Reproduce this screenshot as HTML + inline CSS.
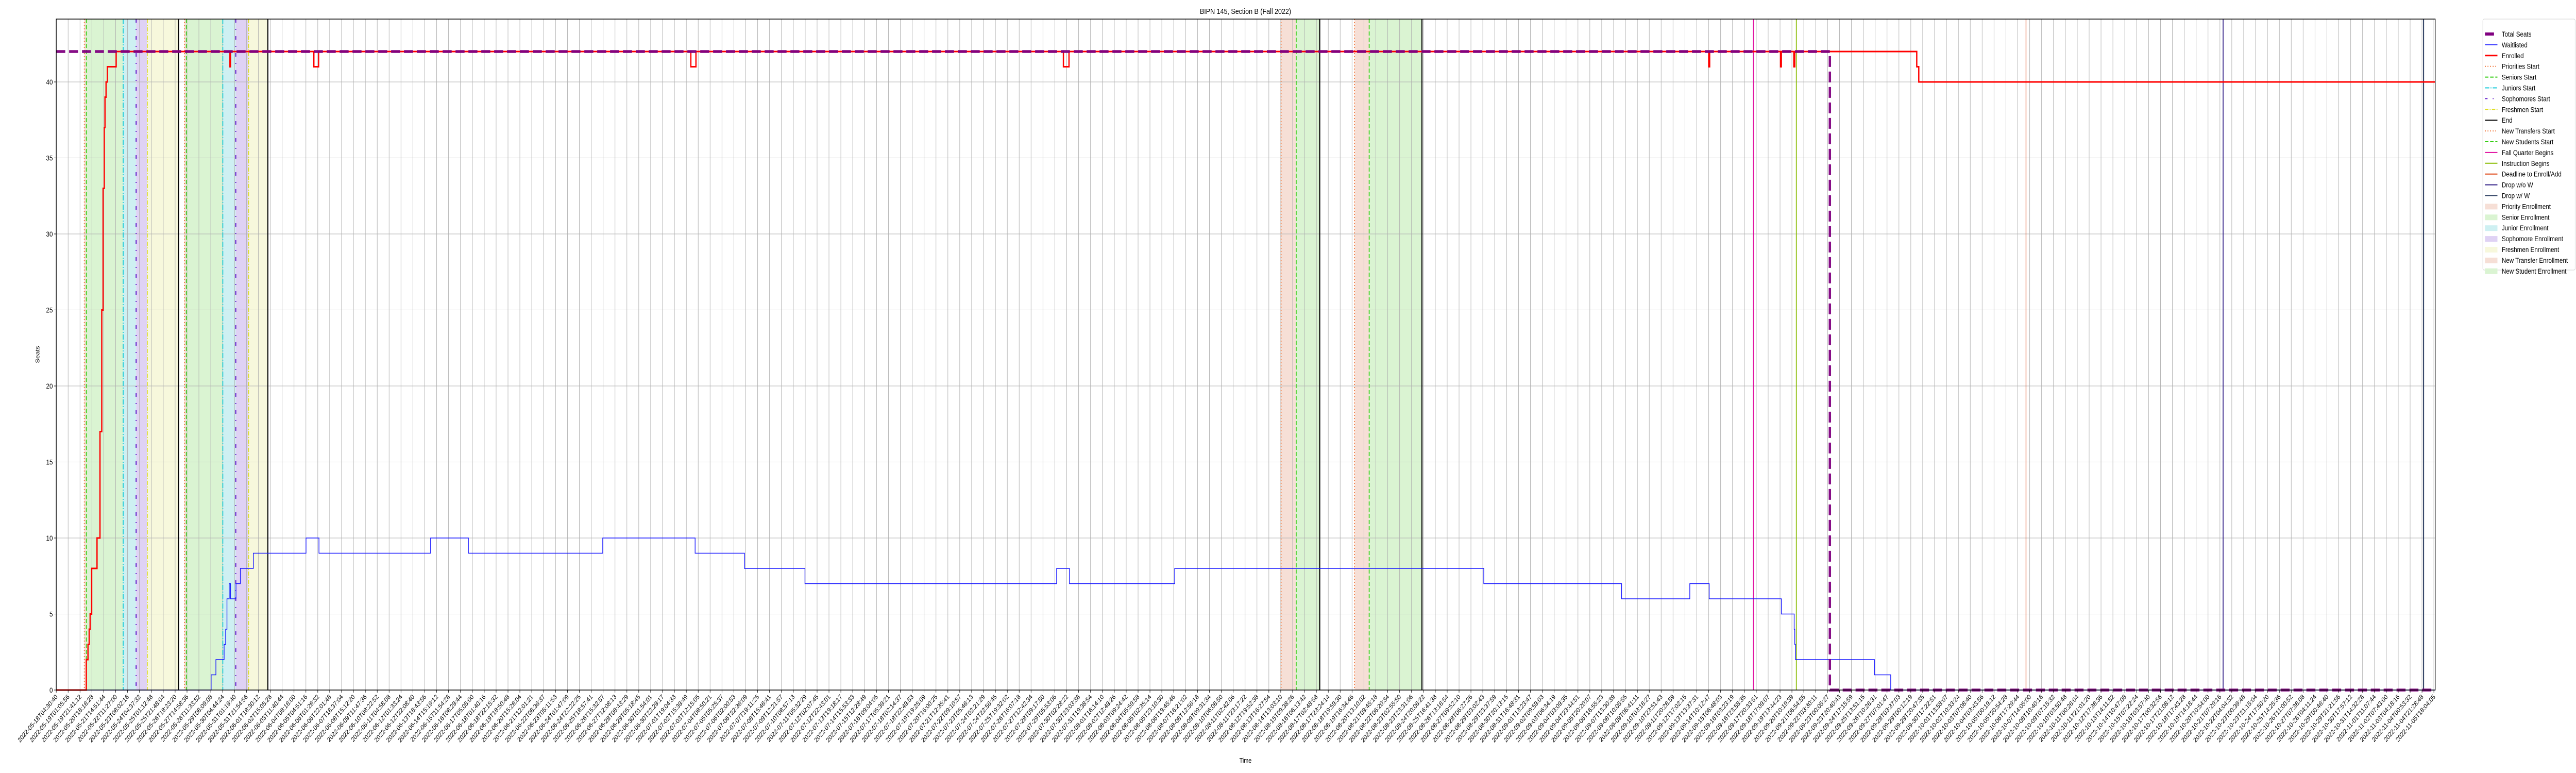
<!DOCTYPE html>
<html><head><meta charset="utf-8">
<style>
html,body{margin:0;padding:0;background:#fff;overflow:hidden;width:100%;height:100%;}
svg{display:block;width:100vw;height:100vh;font-family:"Liberation Sans","DejaVu Sans",sans-serif;}
</style></head>
<body>
<svg id="chart" viewBox="0 0 6000 1500" preserveAspectRatio="none" xmlns="http://www.w3.org/2000/svg">
<rect width="6000" height="1500" fill="#fff"/>
<g id="shades"></g>
<g id="grid"></g>
<g id="vlines"></g>
<g id="series"></g>
<g id="axes"></g>
<text x="2901" y="27" font-size="15" text-anchor="middle">BIPN 145, Section B (Fall 2022)</text>
<text x="2901" y="1480" font-size="13" text-anchor="middle">Time</text>
<text x="0" y="0" font-size="13" text-anchor="middle" transform="translate(92,688) rotate(-90)">Seats</text>
<g id="legend"></g>
</svg>
<script>
// ---- data (x in sample-index units, 0..200) ----
const tickCount = 201;
const tickStartLabel = "2022-05-18T04:30:40";
const tickEndLabel = "2022-11-05T18:04:05";
const yTicks = [0,5,10,15,20,25,30,35,40];

const waitX = [0,13.03,13.43,14.12,14.25,14.36,14.55,14.66,15.12,15.49,16.58,21.01,22.10,31.49,34.67,45.97,53.74,57.89,62.98,84.15,85.23,94.08,120.08,131.67,137.41,139.04,145.11,146.19,146.24,146.30,152.94,154.31];
const waitY = [0,1,2,3,4,6,7,6,7,8,9,10,9,10,9,10,9,8,7,8,7,8,7,6,7,6,5,4,3,2,1,0];

const enrX = [0,2.53,2.67,2.77,2.85,2.98,3.43,3.68,3.83,3.94,4.04,4.10,4.19,4.30,5.04,14.61,14.66,21.67,22.07,53.38,53.81,84.72,85.19,139.0,139.08,145.04,145.11,146.16,146.24,156.5,156.67];
const enrY = [0,2,3,4,5,8,10,17,25,33,37,39,40,41,42,41,42,41,42,41,42,41,42,41,42,41,42,41,42,41,40];

const seatsX = [0,149.19];
const seatsY = [42,0];

const prioritiesStart = [2.36,10.78];
const seniorsStart = [2.53,10.94];
const juniorsStart = [5.63,14.01];
const sophomoresStart = [6.72,15.10];
const freshmenStart = [7.66,16.18];
const endTimes = [10.29,17.80,106.28,114.88];
const newTransfersStart = [103.03,109.21];
const newStudentsStart = [104.30,110.44];
const fallQuarterBegins = [142.76];
const instructionBegins = [146.37];
const deadlineEnroll = [165.69];
const dropNoW = [182.27];
const dropW = [199.13];

// ---- scales ----
const X0=131, X1=5672, XL=5669, Y0=1339, YT=37, YPER=29.5;
const xs = v => X0 + v*(XL-X0)/(tickCount-1);
const ys = v => Y0 - v*YPER;
const NS="http://www.w3.org/2000/svg";
function mk(tag, attrs, parent){const e=document.createElementNS(NS,tag);for(const k in attrs)e.setAttribute(k,attrs[k]);parent.appendChild(e);return e;}

const gS=document.getElementById('shades'), gG=document.getElementById('grid'), gV=document.getElementById('vlines'), gSer=document.getElementById('series'), gA=document.getElementById('axes'), gL=document.getElementById('legend');

function shade(a,b,fill,name){const r=mk('rect',{x:xs(a),y:YT,width:xs(b)-xs(a),height:Y0-YT,fill:fill},gS);

}
const C={prio:'#f6dfd6',sen:'#daf4d2',jun:'#cef0f2',soph:'#dfd2f4',fresh:'#f7f8dc'};
for(let i=0;i<2;i++){
  shade(prioritiesStart[i],seniorsStart[i],C.prio,'priority-enrollment-shade');
  shade(seniorsStart[i],juniorsStart[i],C.sen,'senior-enrollment-shade');
  shade(juniorsStart[i],sophomoresStart[i],C.jun,'junior-enrollment-shade');
  shade(sophomoresStart[i],freshmenStart[i],C.soph,'sophomore-enrollment-shade');
  shade(freshmenStart[i],endTimes[i],C.fresh,'freshmen-enrollment-shade');
  shade(newTransfersStart[i],newStudentsStart[i],C.prio,'new-transfer-enrollment-shade');
  shade(newStudentsStart[i],endTimes[i+2],C.sen,'new-student-enrollment-shade');
}

const t0=Date.parse(tickStartLabel+"Z"), t1=Date.parse(tickEndLabel+"Z");
for(let i=0;i<tickCount;i++){
  const x=xs(i);
  const gl=mk('line',{x1:x,x2:x,y1:YT,y2:Y0,stroke:'#b0b0b0','stroke-width':1.1},gG);
  
  
  const tk=mk('line',{x1:x,x2:x,y1:Y0,y2:Y0+5,stroke:'#000','stroke-width':1},gA);
  
  
  const t=new Date(t0+(t1-t0)*i/(tickCount-1)).toISOString().slice(0,19);
  const tx=mk('text',{x:0,y:0,'font-size':13,'text-anchor':'end',transform:`translate(${x+4},${Y0+14}) rotate(-45)`},gA);
  tx.textContent=t;
  
  
}
yTicks.forEach(v=>{
  const y=ys(v);
  const gl=mk('line',{x1:X0,x2:X1,y1:y,y2:y,stroke:'#b0b0b0','stroke-width':1.1},gG);
  
  
  const tk=mk('line',{x1:X0-5,x2:X0,y1:y,y2:y,stroke:'#000','stroke-width':1},gA);
  
  
  const tx=mk('text',{x:X0-8,y:y+5,'font-size':14,'text-anchor':'end'},gA);
  tx.textContent=v;
  
  
});

function vl(arr,color,w,dash,name){arr.forEach(v=>{const a={x1:xs(v),x2:xs(v),y1:YT,y2:Y0,stroke:color,'stroke-width':w};if(dash)a['stroke-dasharray']=dash;const l=mk('line',a,gV);

});}
vl(prioritiesStart,'#f07030',2,'2,4','priorities-start-line');
vl(seniorsStart,'#33cc11',2,'8,4','seniors-start-line');
vl(juniorsStart,'#11c8d8',2,'10,3,2,3','juniors-start-line');
vl(sophomoresStart,'#6622cc',2.5,'7,12,2,12','sophomores-start-line');
vl(freshmenStart,'#dddd22',2,'8,3,2,3','freshmen-start-line');
vl(newTransfersStart,'#f07030',2,'2,4','new-transfers-start-line');
vl(newStudentsStart,'#33cc11',2,'8,4','new-students-start-line');
vl(endTimes,'#000',2.5,null,'end-line');
vl(fallQuarterBegins,'#e010a0',2,null,'fall-quarter-begins-line');
vl(instructionBegins,'#88bb00',2,null,'instruction-begins-line');
vl(deadlineEnroll,'#dd4411',1.5,null,'deadline-enroll-line');
vl(dropNoW,'#332288',2,null,'drop-without-w-line');
vl(dropW,'#334466',2.5,null,'drop-with-w-line');

function stepPath(X,Y){let d=`M${xs(X[0])},${ys(Y[0])}`;for(let i=1;i<X.length;i++){d+=`H${xs(X[i])}V${ys(Y[i])}`;}d+=`H${X1}`;return d;}
const wl=mk('path',{d:stepPath(waitX,waitY),fill:'none',stroke:'#1515ff','stroke-width':1.6},gSer);


const el=mk('path',{d:stepPath(enrX,enrY),fill:'none',stroke:'#ff0000','stroke-width':3},gSer);


const sl=mk('path',{d:stepPath(seatsX,seatsY),fill:'none',stroke:'#800080','stroke-width':5.5,'stroke-dasharray':'21,9','stroke-opacity':0.95},gSer);



const fr=mk('rect',{x:X0,y:YT,width:X1-X0,height:Y0-YT,fill:'none',stroke:'#000','stroke-width':1.5},gA);



const legItems=[
 ['Total Seats','bar','#800080'],['Waitlisted','line','#1515ff',1.5],['Enrolled','line','#ff0000',3],
 ['Priorities Start','line','#f07030',2,'2,4'],['Seniors Start','line','#33cc11',2,'8,4'],
 ['Juniors Start','line','#11c8d8',2,'10,3,2,3'],['Sophomores Start','line','#6622cc',2,'6,12,2,12'],
 ['Freshmen Start','line','#dddd22',2,'8,3,2,3'],['End','line','#000',2],
 ['New Transfers Start','line','#f07030',2,'2,4'],['New Students Start','line','#33cc11',2,'8,4'],
 ['Fall Quarter Begins','line','#e010a0',2],['Instruction Begins','line','#88bb00',2],
 ['Deadline to Enroll/Add','line','#dd4411',2],['Drop w/o W','line','#332288',2],['Drop w/ W','line','#334466',2],
 ['Priority Enrollment','patch','#f6dfd6'],['Senior Enrollment','patch','#daf4d2'],['Junior Enrollment','patch','#cef0f2'],
 ['Sophomore Enrollment','patch','#dfd2f4'],['Freshmen Enrollment','patch','#f7f8dc'],['New Transfer Enrollment','patch','#f6dfd6'],
 ['New Student Enrollment','patch','#daf4d2']];
const lb=mk('rect',{x:5783,y:37,width:215,height:487,rx:3,fill:'#fff',stroke:'#d0d0d0','stroke-width':1},gL);


legItems.forEach((it,i)=>{
  const cy=66+i*20.9;
  const g=mk('g',{},gL);
  
  
  if(it[1]==='bar') mk('rect',{x:5788,y:cy-3,width:21,height:6,fill:it[2]},g);
  else if(it[1]==='patch') mk('rect',{x:5788,y:cy-5,width:29,height:11,fill:it[2]},g);
  else {const a={x1:5788,x2:5817,y1:cy,y2:cy,stroke:it[2],'stroke-width':it[3]};if(it[4])a['stroke-dasharray']=it[4];mk('line',a,g);}
  const t=mk('text',{x:5827,y:cy+5,'font-size':14},g);
  t.textContent=it[0];
});
</script>
</body></html>
